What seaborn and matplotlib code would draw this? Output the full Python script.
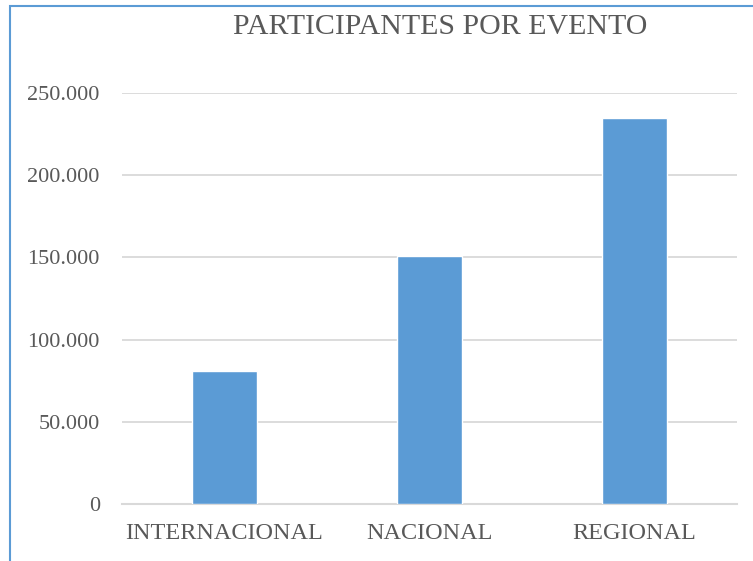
import matplotlib.pyplot as plt
import matplotlib.patches as mpatches
import seaborn as sns
import pandas as pd

# Valores
eventos = ["INTERNACIONAL", "NACIONAL", "REGIONAL"]
participantes = [80900, 150900, 234800]
y_ticks = [0, 50000, 100000, 150000, 200000, 250000]
y_labels = ["0", "50.000", "100.000", "150.000", "200.000", "250.000"]

df = pd.DataFrame({"Evento": eventos, "Participantes": participantes})

sns.set_style("white")
plt.rcParams['font.family'] = ['Liberation Serif', 'DejaVu Serif']

fig = plt.figure(figsize=(7.53, 5.61), dpi=100)
ax = fig.add_axes([0.162, 0.1016, 0.817, 0.7324])

sns.barplot(data=df, x="Evento", y="Participantes", color="#5b9bd5",
            width=0.315, saturation=1, ax=ax, zorder=3)

ax.set_ylim(0, 250000)
ax.set_yticks(y_ticks)
ax.set_yticklabels(y_labels)
ax.set_xlim(-0.5, 2.5)
ax.set_xlabel("")
ax.set_ylabel("")
ax.grid(axis="y", color="#d9d9d9", linewidth=1.3, zorder=0)
ax.set_axisbelow(True)
for s in ["top", "right", "left"]:
    ax.spines[s].set_visible(False)
ax.spines["bottom"].set_color("#d9d9d9")
ax.spines["bottom"].set_linewidth(1.5)
ax.tick_params(axis="y", length=0, pad=16, labelsize=16, labelcolor="#595959")
ax.tick_params(axis="x", length=0, pad=13.5, labelsize=17.5, labelcolor="#595959")

fig.text(0.584, 0.952, "PARTICIPANTES POR EVENTO", ha="center", va="center",
         fontsize=21.5, color="#595959")

# marco del grafico
border = mpatches.Rectangle((9.5 / 753, -0.2), 1.2, 0.2 + 1 - 5.5 / 561,
                            transform=fig.transFigure, fill=False,
                            edgecolor="#5b9bd5", linewidth=1.5, clip_on=False)
fig.patches.append(border)

fig.savefig("out.png", dpi=100)
